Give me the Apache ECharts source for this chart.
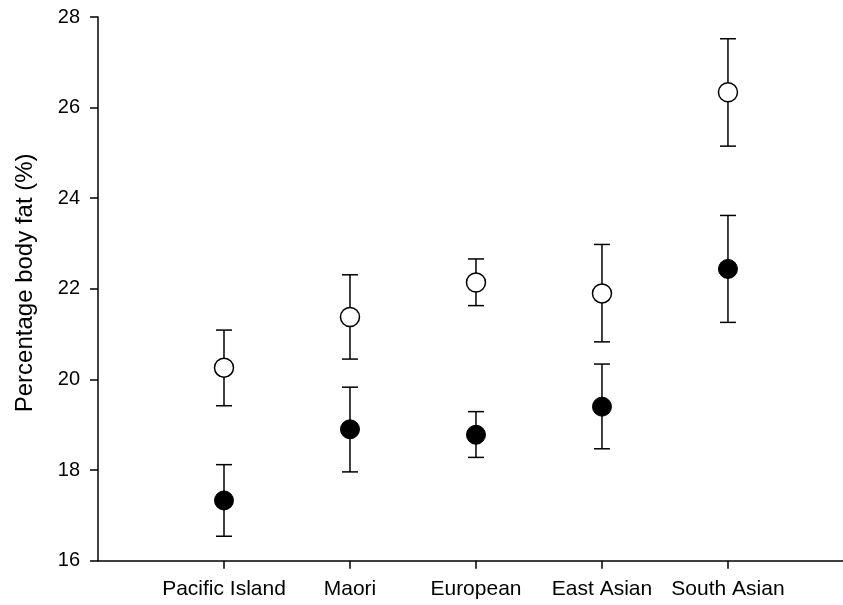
<!DOCTYPE html>
<html><head><meta charset="utf-8">
<script src="https://cdn.jsdelivr.net/npm/echarts@6/dist/echarts.min.js"></script>
<style>html,body{margin:0;padding:0;background:#fff}#c{width:843px;height:605px}</style>
</head><body><div id="c"></div>
<script>
const categories = ['Pacific Island','Maori','European','East Asian','South Asian'];
const xPos = [1,2,3,4,5];
const openMean = [20.26, 21.38, 22.14, 21.90, 26.34];
const openLow  = [19.42, 20.45, 21.63, 20.83, 25.15];
const openHigh = [21.09, 22.31, 22.66, 22.98, 27.52];
const filledMean = [17.33, 18.90, 18.78, 19.40, 22.44];
const filledLow  = [16.54, 17.96, 18.28, 18.47, 21.26];
const filledHigh = [18.12, 19.83, 19.29, 20.34, 23.62];
const yTicks = [16,18,20,22,24,26,28];

const font = 'Liberation Sans, Arial, sans-serif';
function errData(lo, hi){ return xPos.map((x,i)=>[x, lo[i], hi[i]]); }
function renderErr(params, api){
  const x = api.value(0);
  const p1 = api.coord([x, api.value(1)]);
  const p2 = api.coord([x, api.value(2)]);
  const hw = 8;
  const st = {stroke:'#000', lineWidth:1.5};
  return {type:'group', children:[
    {type:'line', shape:{x1:p1[0],y1:p1[1],x2:p2[0],y2:p2[1]}, style:st},
    {type:'line', shape:{x1:p1[0]-hw,y1:p1[1],x2:p1[0]+hw,y2:p1[1]}, style:st},
    {type:'line', shape:{x1:p2[0]-hw,y1:p2[1],x2:p2[0]+hw,y2:p2[1]}, style:st}
  ]};
}
const chart = echarts.init(document.getElementById('c'), null, {renderer:'canvas'});
chart.setOption({
  animation:false,
  backgroundColor:'#fff',
  grid:{left:98, right:0, top:17, bottom:44.3, containLabel:false},
  xAxis:{type:'value', min:0, max:5.913,
    axisLine:{lineStyle:{color:'#000', width:1.5}},
    axisTick:{show:true, inside:false, length:8, lineStyle:{color:'#000', width:1.5}, customValues:xPos},
    axisLabel:{customValues:xPos, margin:18, color:'#000', fontSize:21, fontFamily:font,
      formatter:v=>categories[Math.round(v)-1] || ''},
    splitLine:{show:false}},
  yAxis:{type:'value', min:yTicks[0], max:yTicks[yTicks.length-1], interval:2,
    name:'Percentage body fat (%)', nameLocation:'middle', nameGap:61,
    nameTextStyle:{color:'#000', fontSize:24, fontFamily:font, padding:[0,0,0,12]},
    axisLine:{show:true, lineStyle:{color:'#000', width:1.5}},
    axisTick:{show:true, inside:false, length:8, lineStyle:{color:'#000', width:1.5}},
    axisLabel:{margin:18, color:'#000', fontSize:20, fontFamily:font},
    splitLine:{show:false}},
  series:[
    {type:'custom', renderItem:renderErr, data:errData(openLow, openHigh), z:2},
    {type:'custom', renderItem:renderErr, data:errData(filledLow, filledHigh), z:2},
    {type:'scatter', symbol:'circle', symbolSize:19, z:3,
      itemStyle:{color:'#fff', borderColor:'#000', borderWidth:1.5, opacity:1},
      data:xPos.map((x,i)=>[x, openMean[i]])},
    {type:'scatter', symbol:'circle', symbolSize:19, z:3,
      itemStyle:{color:'#000', borderColor:'#000', borderWidth:1, opacity:1},
      data:xPos.map((x,i)=>[x, filledMean[i]])}
  ]
});
</script></body></html>
